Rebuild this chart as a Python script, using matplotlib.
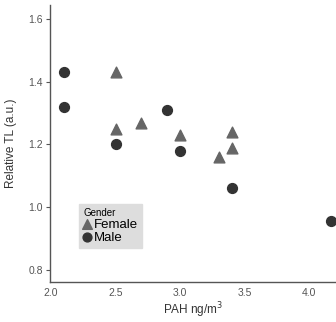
import matplotlib.pyplot as plt

plt.rcParams['font.family'] = ['Liberation Sans', 'DejaVu Sans']

# Female (triangles)
female_x = [2.5, 2.5, 2.7, 3.0, 3.4, 3.4, 3.3]
female_y = [1.43, 1.25, 1.27, 1.23, 1.24, 1.19, 1.16]
# Male (circles)
male_x = [2.1, 2.1, 2.5, 2.9, 3.0, 3.4, 4.17]
male_y = [1.43, 1.32, 1.20, 1.31, 1.18, 1.06, 0.955]

xticks = [2.0, 2.5, 3.0, 3.5, 4.0]
yticks = [0.8, 1.0, 1.2, 1.4, 1.6]

fig = plt.figure(figsize=(3.36, 3.22), dpi=100)
ax = fig.add_axes([50/336, 1 - 282/322, 1 - 50/336, 277/322])

ax.scatter(female_x, female_y, marker='^', s=60, color='#666666', label='Female', zorder=3)
ax.scatter(male_x, male_y, marker='o', s=50, color='#333333', label='Male', zorder=3)

ax.set_xlim(1.992, 4.209)
ax.set_ylim(0.761, 1.645)
ax.set_xticks(xticks)
ax.set_yticks(yticks)
ax.set_xticklabels(['%.1f' % v for v in xticks])
ax.set_yticklabels(['%.1f' % v for v in yticks])

for s in ['top', 'right']:
    ax.spines[s].set_visible(False)
for s in ['left', 'bottom']:
    ax.spines[s].set_color('#555555')
    ax.spines[s].set_linewidth(1.0)
ax.tick_params(axis='both', labelsize=7.5, colors='#555555', length=3, width=0.8, pad=2)
ax.tick_params(axis='x', length=0, pad=4)

ax.set_xlabel('PAH ng/m$^3$', fontsize=8.5, color='#333333', labelpad=2)
ax.set_ylabel('Relative TL (a.u.)', fontsize=8.5, color='#333333', labelpad=8)

leg = ax.legend(title='Gender', loc='lower left', bbox_to_anchor=(0.08, 0.1),
                fontsize=9.5, title_fontsize=7, frameon=True, fancybox=False,
                handlelength=0.6, handletextpad=0.2, borderpad=0.3, labelspacing=0.05,
                markerscale=0.9, alignment='left')
leg.get_frame().set_facecolor('#dddddd')
leg.get_frame().set_edgecolor('#dddddd')
leg.get_frame().set_alpha(1)

fig.savefig('out.png', dpi=100)
